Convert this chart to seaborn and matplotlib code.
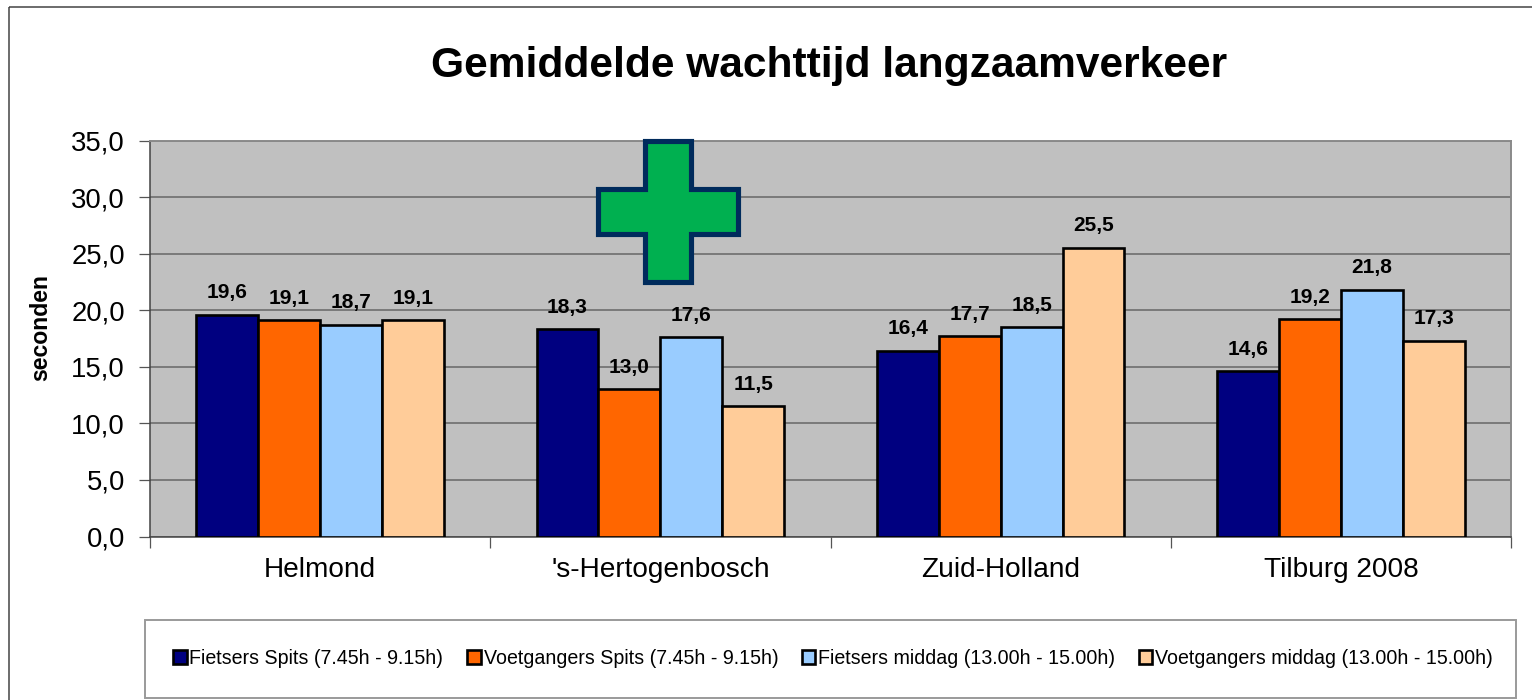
import matplotlib
matplotlib.use('Agg')
import matplotlib.pyplot as plt
import matplotlib.patches as patches
from matplotlib.transforms import Affine2D
import pandas as pd
import seaborn as sns

# 数据
steden = ['Helmond', "'s-Hertogenbosch", 'Zuid-Holland', 'Tilburg 2008']
series_namen = ['Fietsers Spits (7.45h - 9.15h)', 'Voetgangers Spits (7.45h - 9.15h)',
                'Fietsers middag (13.00h - 15.00h)', 'Voetgangers middag (13.00h - 15.00h)']
fietsers_spits = [19.6, 18.3, 16.4, 14.6]
voetgangers_spits = [19.1, 13.0, 17.7, 19.2]
fietsers_middag = [18.7, 17.6, 18.5, 21.8]
voetgangers_middag = [19.1, 11.5, 25.5, 17.3]
kleuren = ['#000080', '#FF6600', '#99CCFF', '#FFCC99']
y_ticks = [0, 5, 10, 15, 20, 25, 30, 35]

W, H = 1532, 700

sns.set_theme(style='white')
plt.rcParams['font.family'] = ['Liberation Sans', 'DejaVu Sans']

rows = []
for naam, waarden in zip(series_namen, [fietsers_spits, voetgangers_spits, fietsers_middag, voetgangers_middag]):
    for stad, w in zip(steden, waarden):
        rows.append({'stad': stad, 'serie': naam, 'waarde': w})
df = pd.DataFrame(rows)

fig = plt.figure(figsize=(W / 100, H / 100), dpi=100, facecolor='white')
ax = fig.add_axes([150 / W, 1 - 536.5 / H, (1511 - 150) / W, (536.5 - 140.5) / H])
ax.set_facecolor('#C0C0C0')

# pixel coordinates of the reference, origin top left
px = Affine2D().scale(1 / W, -1 / H).translate(0, 1) + fig.transFigure

sns.barplot(data=df, x='stad', y='waarde', hue='serie', order=steden, hue_order=series_namen,
            palette=kleuren, width=0.728, gap=0, edgecolor='black', linewidth=1.9,
            saturation=1, errorbar=None, ax=ax, zorder=3)

ax.set_xlim(-0.5, 3.5)
ax.set_ylim(0, 35)
ax.set_yticks(y_ticks)
ax.set_yticklabels([f'{t:.1f}'.replace('.', ',') for t in y_ticks], fontsize=19.8, color='black')
ax.set_xticks([-0.5, 0.5, 1.5, 2.5, 3.5])
ax.set_xticklabels([])
ax.tick_params(axis='both', length=8, width=0.9, color='#555555', direction='out', pad=10, left=True, bottom=True)
ax.grid(axis='y', color='#666666', linewidth=1.1, zorder=0)
ax.set_axisbelow(True)
for kant in ['top', 'right']:
    ax.spines[kant].set_color('#8A8A8A')
    ax.spines[kant].set_linewidth(1.4)
for kant in ['left', 'bottom']:
    ax.spines[kant].set_color('#444444')
    ax.spines[kant].set_linewidth(1.1)

for i, stad in enumerate(steden):
    ax.text(i, -2.95, stad, ha='center', va='center', fontsize=20.2, color='black')

ax.set_xlabel('')
ax.set_ylabel('')
fig.text(41 / W, 1 - 328 / H, 'seconden', rotation=90, ha='center', va='center',
         fontsize=16.6, fontweight='bold', color='black')

for bars in ax.containers:
    ax.bar_label(bars, labels=[f'{b.get_height():.1f}'.replace('.', ',') for b in bars],
                 padding=9, fontsize=15, fontweight='bold', color='black', zorder=5)

fig.text(829.5 / W, 1 - 66 / H, 'Gemiddelde wachttijd langzaamverkeer', ha='center', va='center',
         fontsize=30.6, fontweight='bold', color='black')

# outer chart frame runs off the canvas on the right and bottom
fig.add_artist(patches.Rectangle((9, 7), W, H, transform=px, fill=False, edgecolor='#444444', linewidth=1.1))

# green cross on top of the plot
kruis = [(645, 141), (690.5, 141), (690.5, 189), (737.5, 189), (737.5, 234), (690.5, 234), (690.5, 282),
         (645, 282), (645, 234), (597.5, 234), (597.5, 189), (645, 189)]
fig.add_artist(patches.Polygon(kruis, closed=True, transform=px, facecolor='#00B050', edgecolor='#002B5C',
                               linewidth=3.7, joinstyle='miter', zorder=6))

# legend frame + legend
fig.add_artist(patches.Rectangle((145, 620), 1371, 78, transform=px, facecolor='white', edgecolor='#9A9A9A',
                                 linewidth=1.4, zorder=4))
handles, labels = ax.get_legend_handles_labels()
ax.get_legend().remove()
leg = fig.legend(handles, labels, loc='center', bbox_to_anchor=(833 / W, 1 - 658.5 / H), ncol=4, frameon=False,
                 fontsize=14.1, handlelength=0.7, handleheight=0.7, handletextpad=0.15, columnspacing=1.2,
                 labelcolor='black')
leg.set_zorder(7)

fig.savefig('out.png', dpi=100, facecolor='white')
